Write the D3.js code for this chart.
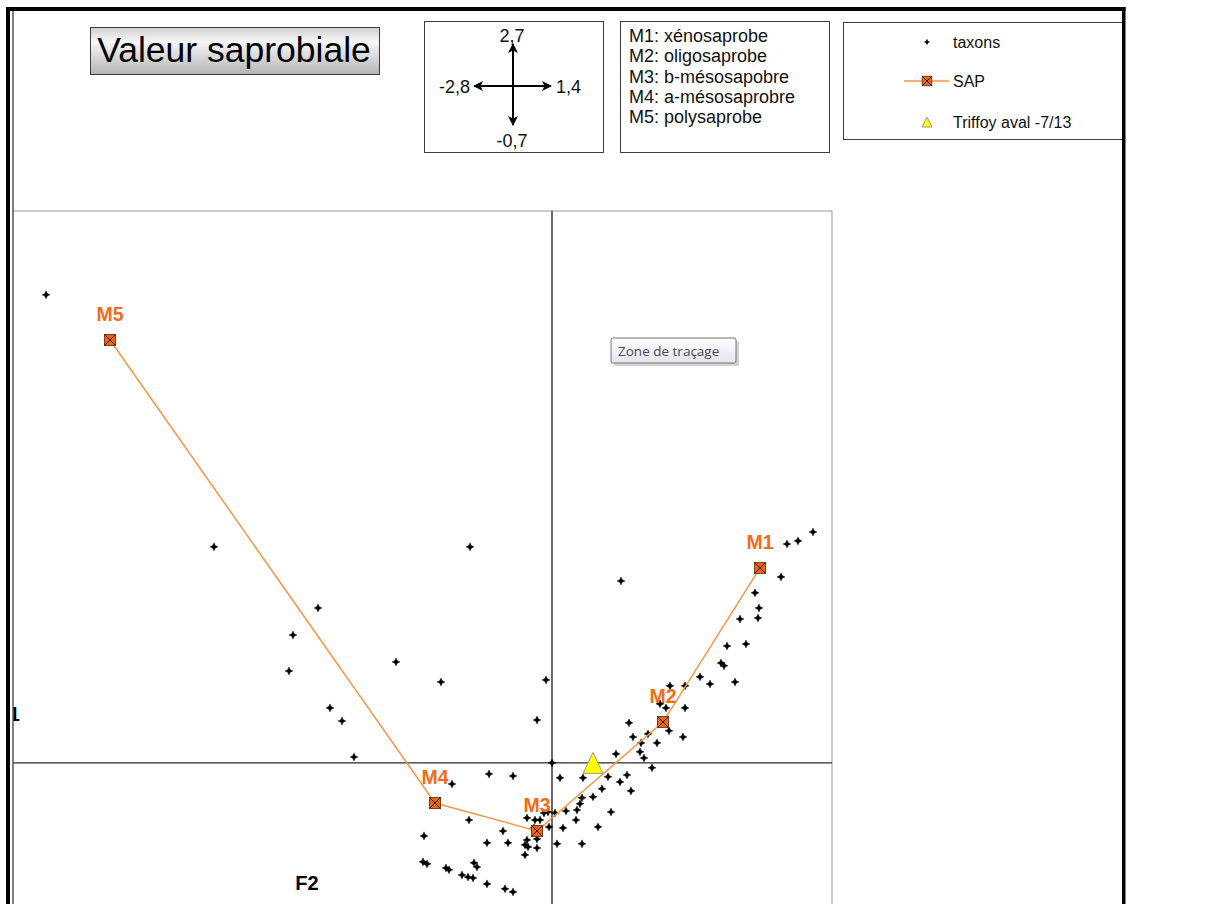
<!DOCTYPE html>
<html>
<head>
<meta charset="utf-8">
<script src="https://cdn.jsdelivr.net/npm/d3@7"></script>
<style>
  body { margin: 0; background: #fff; }
  svg { display: block; font-family: "Liberation Sans", Arial, sans-serif; }
</style>
</head>
<body>
<svg width="1226" height="904"></svg>
<script>
// --- data (F2 horizontal, F1 vertical) ---
var sapLabels = ["M1", "M2", "M3", "M4", "M5"];
var sapX = [1.04, 0.555, -0.075, -0.585, -2.21];
var sapY = [0.954, 0.20, -0.333, -0.196, 2.069];

var stationName = "Triffoy aval -7/13";
var stationX = [0.205];
var stationY = [0.0];

var taxonX = [
  -2.53, -1.69, -1.17, -1.295, -1.315, -0.78, -1.11, -1.05, -0.99, -0.41, 0.345, -0.555, -0.03, -0.075, 0,
  1.305, 1.23, 1.175, 1.145, 1.015, 1.035, 1.03, 0.94, 0.97, 0.875, 0.845, 0.86, 0.915, 0.74, 0.79,
  0.665, 0.59, 0.54, 0.57, 0.665, 0.585, 0.655, 0.385, 0.405, 0.48, 0.445, 0.525, 0.44, 0.46, 0.32,
  0.50, 0.28, 0.375, 0.34, 0.25, 0.395, 0.205, 0.295, 0.23, 0.15, 0.14, 0.125, 0.12, 0.07, 0.055,
  0.04, 0.155, 0.15, 0.025, -0.015,
  -0.315, -0.195, -0.50, -0.415, -0.64, -0.245, -0.325, -0.22, -0.125, -0.085, -0.06, -0.04, -0.02, 0.015,
  -0.09, -0.075, -0.075, -0.125, -0.135, -0.12, -0.135, -0.645, -0.625, -0.53, -0.515, -0.45, -0.42, -0.395,
  -0.39, -0.375, -0.325, -0.235, -0.195
];
var taxonY = [
  2.29, 1.057, 0.758, 0.626, 0.45, 0.494, 0.269, 0.205, 0.029, 1.057, 0.89, 0.396, 0.406, 0.21, 0,
  1.13, 1.086, 1.071, 0.91, 0.832, 0.758, 0.709, 0.704, 0.582, 0.572, 0.489, 0.475, 0.396, 0.421, 0.386,
  0.377, 0.377, 0.289, 0.269, 0.269, 0.157, 0.127, 0.196, 0.127, 0.142, 0.098, 0.098, 0.054, 0.024, 0.044,
  -0.024, -0.068, -0.059, -0.093, -0.127, -0.137, -0.166, -0.24, -0.313, -0.171, -0.20, -0.23, -0.279, -0.235, -0.318,
  -0.073, -0.073, -0.396, -0.396, -0.313,
  -0.054, -0.064, -0.103, -0.279, -0.357, -0.333, -0.391, -0.391, -0.269, -0.279, -0.279, -0.245, -0.24, -0.245,
  -0.318, -0.372, -0.416, -0.377, -0.401, -0.411, -0.45, -0.484, -0.494, -0.514, -0.523, -0.548, -0.558, -0.563,
  -0.489, -0.509, -0.592, -0.616, -0.631
];

// axis extents shown in the little cross box
var crossLabels = {top: "2,7", left: "-2,8", right: "1,4", bottom: "-0,7"};
var legendLines = ["M1: xénosaprobe", "M2: oligosaprobe", "M3: b-mésosapobre", "M4: a-mésosaprobre", "M5: polysaprobe"];
var seriesNames = ["taxons", "SAP", stationName];

var svg = d3.select("svg");

var orange = "#F79646", markerFill = "#EE6414", labelCol = "#F56B18";

var xScale = d3.scaleLinear().domain([-2.8, 1.4]).range([-8, 832]);
var yScale = d3.scaleLinear().domain([-0.7, 2.7]).range([906, 211]);

var defs = svg.append("defs");
var grad = defs.append("linearGradient").attr("id", "titleGrad").attr("x1", 0).attr("y1", 0).attr("x2", 0).attr("y2", 1);
grad.append("stop").attr("offset", "0%").attr("stop-color", "#cfcfcf");
grad.append("stop").attr("offset", "30%").attr("stop-color", "#f7f7f7");
grad.append("stop").attr("offset", "100%").attr("stop-color", "#b4b4b4");

var tipGrad = defs.append("linearGradient").attr("id", "tipGrad").attr("x1", 0).attr("y1", 0).attr("x2", 0).attr("y2", 1);
tipGrad.append("stop").attr("offset", "0%").attr("stop-color", "#ffffff");
tipGrad.append("stop").attr("offset", "100%").attr("stop-color", "#e3e4ee");

defs.append("marker").attr("id", "arrow")
  .attr("viewBox", "0 0 10 10").attr("refX", 9).attr("refY", 5)
  .attr("markerWidth", 5.5).attr("markerHeight", 5).attr("orient", "auto")
  .append("path").attr("d", "M0,0 L10,5 L0,10 L2.5,5 Z").attr("fill", "#000");

defs.append("clipPath").attr("id", "clip")
  .append("rect").attr("x", 13.5).attr("y", 200).attr("width", 822).attr("height", 710);

// --- plot area ---
var plot = svg.append("g").attr("clip-path", "url(#clip)");

plot.append("rect")
  .attr("x", xScale(-2.8)).attr("y", yScale(2.7))
  .attr("width", xScale(1.4) - xScale(-2.8)).attr("height", yScale(-0.7) - yScale(2.7))
  .attr("fill", "none").attr("stroke", "#999").attr("stroke-width", 1);

plot.append("line")
  .attr("x1", xScale(0)).attr("x2", xScale(0))
  .attr("y1", yScale(2.7)).attr("y2", yScale(-0.7))
  .attr("stroke", "#2a2a2a").attr("stroke-width", 1.4);
plot.append("line")
  .attr("x1", xScale(-2.8)).attr("x2", xScale(1.4))
  .attr("y1", yScale(0)).attr("y2", yScale(0))
  .attr("stroke", "#2a2a2a").attr("stroke-width", 1.4);

// F1 title sits mostly left of the visible area, as in the original
plot.append("text").attr("x", 20).attr("y", 721).attr("text-anchor", "end")
  .attr("font-size", 20).attr("font-weight", "bold").text("F1");
plot.append("text").attr("x", 307).attr("y", 890).attr("text-anchor", "middle")
  .attr("font-size", 20).attr("font-weight", "bold").text("F2");

// taxons: small 4 point stars
var star = "M0,-4 L1.3,-1.3 L4,0 L1.3,1.3 L0,4 L-1.3,1.3 L-4,0 L-1.3,-1.3 Z";
plot.selectAll("path.taxon").data(taxonX)
  .enter().append("path").attr("class", "taxon")
  .attr("d", star)
  .attr("transform", function(d, i) { return "translate(" + xScale(d) + "," + yScale(taxonY[i]) + ")"; })
  .attr("fill", "#000").attr("stroke", "#000").attr("stroke-width", 0.4);

// SAP line + markers
var sap = sapX.map(function(d, i) { return {x: d, y: sapY[i], label: sapLabels[i]}; });
plot.append("path").datum(sap)
  .attr("d", d3.line().x(function(d) { return xScale(d.x); }).y(function(d) { return yScale(d.y); }))
  .attr("fill", "none").attr("stroke", orange).attr("stroke-width", 1.5);

function sapMarker(g, s) {
  g.append("rect").attr("x", -s / 2).attr("y", -s / 2).attr("width", s).attr("height", s)
    .attr("fill", markerFill).attr("stroke", "#6e3310").attr("stroke-width", 0.9);
  g.append("path").attr("d", "M" + (-s / 2) + "," + (-s / 2) + "L" + (s / 2) + "," + (s / 2) +
      "M" + (s / 2) + "," + (-s / 2) + "L" + (-s / 2) + "," + (s / 2))
    .attr("stroke", "#222").attr("stroke-width", 1);
}

var sapG = plot.selectAll("g.sap").data(sap).enter().append("g").attr("class", "sap")
  .attr("transform", function(d) { return "translate(" + xScale(d.x) + "," + yScale(d.y) + ")"; });
sapG.each(function() { sapMarker(d3.select(this), 11); });
sapG.append("text").attr("x", 0).attr("y", -19).attr("text-anchor", "middle")
  .attr("font-size", 19.5).attr("font-weight", "bold").attr("fill", labelCol)
  .text(function(d) { return d.label; });

// station triangle
plot.selectAll("path.station").data(stationX).enter().append("path").attr("class", "station")
  .attr("d", "M0,-10.5 L10,10.5 L-10,10.5 Z")
  .attr("transform", function(d, i) { return "translate(" + xScale(d) + "," + yScale(stationY[i]) + ")"; })
  .attr("fill", "#ffff00").attr("stroke", "#9a9a9a").attr("stroke-width", 1);

// "Zone de traçage" tooltip
var tip = svg.append("g").attr("transform", "translate(611,338)");
tip.append("rect").attr("x", 3).attr("y", 3).attr("width", 125).attr("height", 25).attr("rx", 2)
  .attr("fill", "#000").attr("opacity", 0.18);
tip.append("rect").attr("x", 0).attr("y", 0).attr("width", 125).attr("height", 25).attr("rx", 2)
  .attr("fill", "url(#tipGrad)").attr("stroke", "#767676").attr("stroke-width", 1);
tip.append("text").attr("x", 7).attr("y", 18).attr("font-family", "'Open Sans', 'Noto Sans', sans-serif")
  .attr("font-size", 13.5).attr("fill", "#4a4a4a").text("Zone de traçage");

// --- title ---
svg.append("rect").attr("x", 90.5).attr("y", 27.5).attr("width", 289).attr("height", 47)
  .attr("fill", "url(#titleGrad)").attr("stroke", "#3c3c3c").attr("stroke-width", 1);
svg.append("text").attr("x", 234).attr("y", 62).attr("text-anchor", "middle")
  .attr("font-size", 35.5).attr("fill", "#000").text("Valeur saprobiale");

// --- cross box ---
svg.append("rect").attr("x", 424.5).attr("y", 21.5).attr("width", 179).attr("height", 131)
  .attr("fill", "#fff").attr("stroke", "#3c3c3c");
var cx = 513, cy = 86;
svg.append("line").attr("x1", cx).attr("y1", cy).attr("x2", cx).attr("y2", 44)
  .attr("stroke", "#000").attr("stroke-width", 2).attr("marker-end", "url(#arrow)");
svg.append("line").attr("x1", cx).attr("y1", cy).attr("x2", cx).attr("y2", 125)
  .attr("stroke", "#000").attr("stroke-width", 2).attr("marker-end", "url(#arrow)");
svg.append("line").attr("x1", cx).attr("y1", cy).attr("x2", 474).attr("y2", cy)
  .attr("stroke", "#000").attr("stroke-width", 2).attr("marker-end", "url(#arrow)");
svg.append("line").attr("x1", cx).attr("y1", cy).attr("x2", 551).attr("y2", cy)
  .attr("stroke", "#000").attr("stroke-width", 2).attr("marker-end", "url(#arrow)");
var crossText = svg.append("g").attr("font-size", 18).attr("fill", "#111");
crossText.append("text").attr("x", 512).attr("y", 42).attr("text-anchor", "middle").text(crossLabels.top);
crossText.append("text").attr("x", 470).attr("y", 93).attr("text-anchor", "end").text(crossLabels.left);
crossText.append("text").attr("x", 556).attr("y", 93).text(crossLabels.right);
crossText.append("text").attr("x", 512).attr("y", 147).attr("text-anchor", "middle").text(crossLabels.bottom);

// --- M legend box ---
svg.append("rect").attr("x", 620.5).attr("y", 21.5).attr("width", 209).attr("height", 131)
  .attr("fill", "#fff").attr("stroke", "#3c3c3c");
svg.append("g").attr("font-size", 18).attr("fill", "#111")
  .selectAll("text").data(legendLines).enter().append("text")
  .attr("x", 629).attr("y", function(d, i) { return 42 + i * 20.3; })
  .text(function(d) { return d; });

// --- series legend (right side runs under the frame) ---
svg.append("rect").attr("x", 843.5).attr("y", 22.5).attr("width", 280).attr("height", 117)
  .attr("fill", "#fff").attr("stroke", "#3c3c3c");
var lg = svg.append("g").attr("font-size", 16).attr("fill", "#111");
lg.append("path").attr("d", star).attr("transform", "translate(927,42) scale(0.8)").attr("fill", "#000");
lg.append("line").attr("x1", 904).attr("x2", 949).attr("y1", 81).attr("y2", 81)
  .attr("stroke", orange).attr("stroke-width", 1.5);
sapMarker(lg.append("g").attr("transform", "translate(927,81)"), 9.5);
lg.append("path").attr("d", "M0,-5 L5,5 L-5,5 Z").attr("transform", "translate(927,122)")
  .attr("fill", "#ffff00").attr("stroke", "#9a9a9a").attr("stroke-width", 1);
lg.selectAll("text").data(seriesNames).enter().append("text")
  .attr("x", 953).attr("y", function(d, i) { return [48, 87, 128][i]; })
  .text(function(d) { return d; });

// --- outer frame ---
svg.append("rect").attr("x", 6).attr("y", 7).attr("width", 4).attr("height", 897).attr("fill", "#000");
svg.append("rect").attr("x", 6).attr("y", 7).attr("width", 1119.5).attr("height", 4).attr("fill", "#000");
svg.append("rect").attr("x", 1122).attr("y", 7).attr("width", 3.5).attr("height", 897).attr("fill", "#000");
svg.append("line").attr("x1", 13).attr("x2", 13).attr("y1", 11).attr("y2", 904)
  .attr("stroke", "#000").attr("stroke-width", 1);
</script>
</body>
</html>
